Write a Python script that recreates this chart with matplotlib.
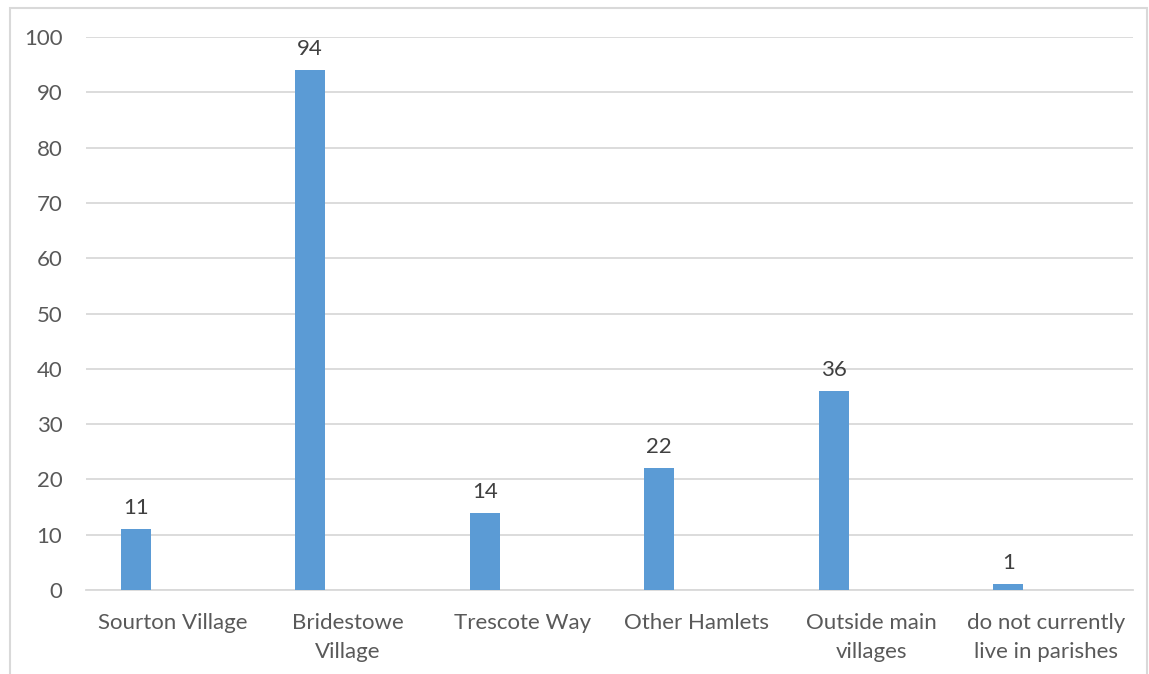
import numpy as np
import matplotlib.pyplot as plt
from matplotlib.patches import Rectangle

# data
categories = ["Sourton Village", "Bridestowe\nVillage", "Trescote Way",
              "Other Hamlets", "Outside main\nvillages", "do not currently\nlive in parishes"]
values = [11, 94, 14, 22, 36, 1]
yticks = [0, 10, 20, 30, 40, 50, 60, 70, 80, 90, 100]

BAR_COLOR = "#5b9bd5"
TEXT_COLOR = "#595959"
GRID_COLOR = "#d9d9d9"
FS = 16

plt.rcParams["font.family"] = ["Lato", "DejaVu Sans"]

fig = plt.figure(figsize=(11.49, 6.74), dpi=100)
ax = fig.add_axes([0.0748, 0.1246, 0.9112, 0.8204])

x = np.arange(len(categories))
bars = ax.bar(x - 0.215, values, width=0.172, color=BAR_COLOR, zorder=3)

for b, v in zip(bars, values):
    ax.text(b.get_x() + b.get_width() / 2, v + 2.0, str(v), ha="center", va="bottom",
            fontsize=FS, color="#404040")

ax.set_xlim(-0.5, len(categories) - 0.5)
ax.set_ylim(0, 100)
ax.set_yticks(yticks)
ax.set_xticks(x)
ax.set_xticklabels(categories, linespacing=1.55)
ax.tick_params(axis="both", length=0, labelsize=FS, colors=TEXT_COLOR)
ax.tick_params(axis="y", pad=17)
ax.tick_params(axis="x", pad=16.5)
ax.grid(axis="y", color=GRID_COLOR, linewidth=1.3, zorder=0)
for s in ["top", "right", "left"]:
    ax.spines[s].set_visible(False)
ax.spines["bottom"].set_color(GRID_COLOR)
ax.spines["bottom"].set_linewidth(1.3)

# outer chart border
fig.patches.append(Rectangle((10 / 1149, -0.05), 1137 / 1149, 1.05 - 8 / 674,
                             transform=fig.transFigure, fill=False,
                             edgecolor=GRID_COLOR, linewidth=1.5))

fig.savefig("out.png", dpi=100)
